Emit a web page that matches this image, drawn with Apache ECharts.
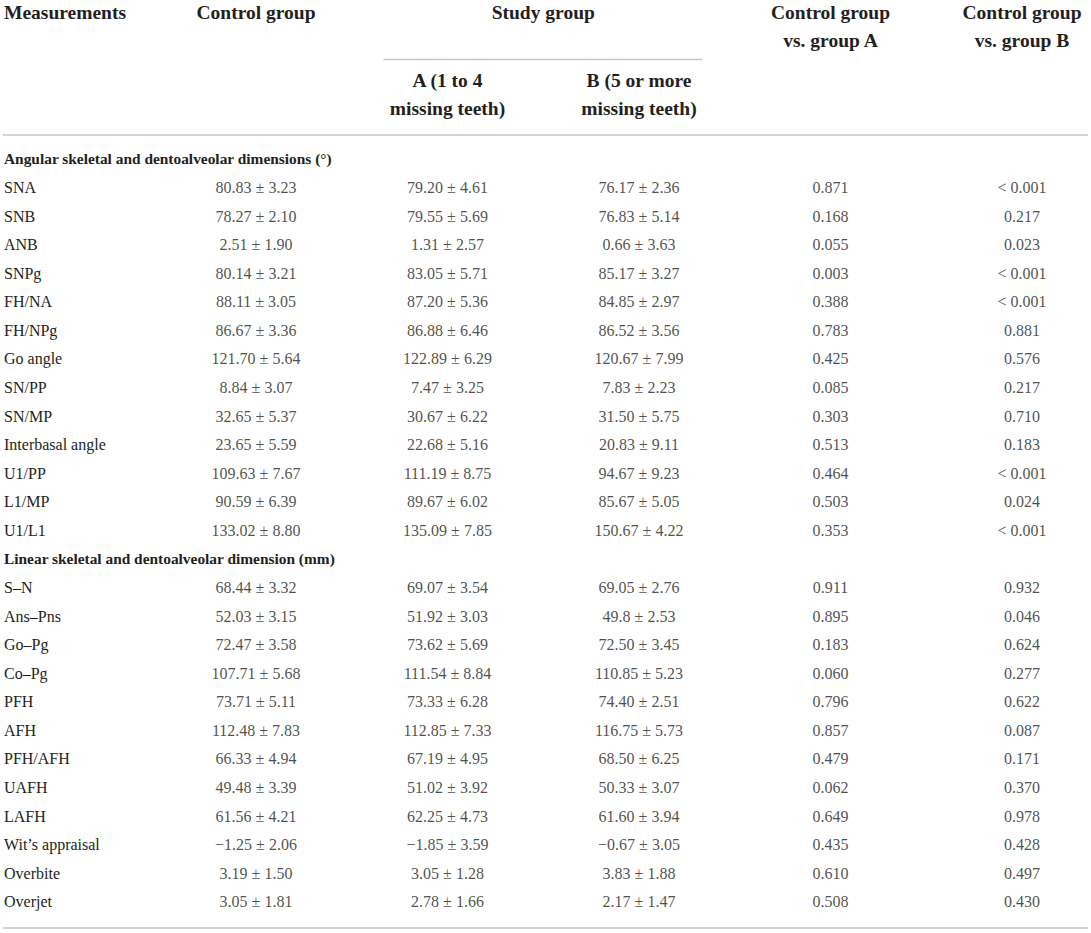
<!DOCTYPE html>
<html>
<head>
<meta charset="utf-8">
<script src="https://cdn.jsdelivr.net/npm/echarts@6/dist/echarts.min.js"></script>
<style>
html,body{margin:0;padding:0;background:#ffffff;}
#chart{width:1091px;height:933px;}
</style>
</head>
<body>
<div id="chart"></div>
<script>
// ---------- DATA ----------
const headerMeasurements = 'Measurements';
const headerControl = 'Control group';
const headerStudy = 'Study group';
const headerGroupA = ['A (1 to 4', 'missing teeth)'];
const headerGroupB = ['B (5 or more', 'missing teeth)'];
const headerPA = ['Control group', 'vs. group A'];
const headerPB = ['Control group', 'vs. group B'];

const angularTitle = 'Angular skeletal and dentoalveolar dimensions (°)';
const angularNames = ['SNA','SNB','ANB','SNPg','FH/NA','FH/NPg','Go angle','SN/PP','SN/MP','Interbasal angle','U1/PP','L1/MP','U1/L1'];
const angularControl = ['80.83 ± 3.23','78.27 ± 2.10','2.51 ± 1.90','80.14 ± 3.21','88.11 ± 3.05','86.67 ± 3.36','121.70 ± 5.64','8.84 ± 3.07','32.65 ± 5.37','23.65 ± 5.59','109.63 ± 7.67','90.59 ± 6.39','133.02 ± 8.80'];
const angularGroupA = ['79.20 ± 4.61','79.55 ± 5.69','1.31 ± 2.57','83.05 ± 5.71','87.20 ± 5.36','86.88 ± 6.46','122.89 ± 6.29','7.47 ± 3.25','30.67 ± 6.22','22.68 ± 5.16','111.19 ± 8.75','89.67 ± 6.02','135.09 ± 7.85'];
const angularGroupB = ['76.17 ± 2.36','76.83 ± 5.14','0.66 ± 3.63','85.17 ± 3.27','84.85 ± 2.97','86.52 ± 3.56','120.67 ± 7.99','7.83 ± 2.23','31.50 ± 5.75','20.83 ± 9.11','94.67 ± 9.23','85.67 ± 5.05','150.67 ± 4.22'];
const angularPA = ['0.871','0.168','0.055','0.003','0.388','0.783','0.425','0.085','0.303','0.513','0.464','0.503','0.353'];
const angularPB = ['< 0.001','0.217','0.023','< 0.001','< 0.001','0.881','0.576','0.217','0.710','0.183','< 0.001','0.024','< 0.001'];

const linearTitle = 'Linear skeletal and dentoalveolar dimension (mm)';
const linearNames = ['S–N','Ans–Pns','Go–Pg','Co–Pg','PFH','AFH','PFH/AFH','UAFH','LAFH','Wit’s appraisal','Overbite','Overjet'];
const linearControl = ['68.44 ± 3.32','52.03 ± 3.15','72.47 ± 3.58','107.71 ± 5.68','73.71 ± 5.11','112.48 ± 7.83','66.33 ± 4.94','49.48 ± 3.39','61.56 ± 4.21','−1.25 ± 2.06','3.19 ± 1.50','3.05 ± 1.81'];
const linearGroupA = ['69.07 ± 3.54','51.92 ± 3.03','73.62 ± 5.69','111.54 ± 8.84','73.33 ± 6.28','112.85 ± 7.33','67.19 ± 4.95','51.02 ± 3.92','62.25 ± 4.73','−1.85 ± 3.59','3.05 ± 1.28','2.78 ± 1.66'];
const linearGroupB = ['69.05 ± 2.76','49.8 ± 2.53','72.50 ± 3.45','110.85 ± 5.23','74.40 ± 2.51','116.75 ± 5.73','68.50 ± 6.25','50.33 ± 3.07','61.60 ± 3.94','−0.67 ± 3.05','3.83 ± 1.88','2.17 ± 1.47'];
const linearPA = ['0.911','0.895','0.183','0.060','0.796','0.857','0.479','0.062','0.649','0.435','0.610','0.508'];
const linearPB = ['0.932','0.046','0.624','0.277','0.622','0.087','0.171','0.370','0.978','0.428','0.497','0.430'];

// ---------- BUILD TABLE ----------
const sectionTitles = [angularTitle, linearTitle];
const rows = [angularTitle, ...angularNames, linearTitle, ...linearNames];
const columns = [
  [null, ...angularControl, null, ...linearControl],
  [null, ...angularGroupA, null, ...linearGroupA],
  [null, ...angularGroupB, null, ...linearGroupB],
  [null, ...angularPA, null, ...linearPA],
  [null, ...angularPB, null, ...linearPB]
];

// ---------- STYLE / LAYOUT ----------
const FONT = '"Liberation Serif","Times New Roman",Times,serif';
const INK = '#231f20';
const RULE = '#c6c6c6';
const BODY_SIZE = 16;
const SECTION_SIZE = 15.4;
const HEAD_SIZE = 19.5;
const ROW_PITCH = 28.57;
const FIRST_ROW_Y = 158.9;

const chart = echarts.init(document.getElementById('chart'), null, {renderer: 'svg'});

const series = columns.map((col, ci) => ({
  type: 'scatter',
  symbol: 'circle',
  symbolSize: 1,
  itemStyle: {color: 'transparent'},
  silent: true,
  data: col.map((cell, ri) => cell == null ? null : [ci + 1, ri, cell]).filter(d => d),
  label: {
    show: true,
    position: 'inside',
    formatter: p => p.value[2],
    fontFamily: FONT,
    fontSize: BODY_SIZE,
    color: INK
  }
}));

chart.setOption({
  animation: false,
  backgroundColor: '#ffffff',
  grid: {
    left: 4,
    right: 0,
    top: FIRST_ROW_Y - ROW_PITCH / 2,
    height: ROW_PITCH * rows.length
  },
  xAxis: {
    type: 'value',
    min: -0.3159,
    max: 5.3603,
    show: false
  },
  yAxis: {
    type: 'category',
    data: rows,
    inverse: true,
    axisLine: {show: false},
    axisTick: {show: false},
    splitLine: {show: false},
    axisLabel: {
      inside: true,
      margin: 0,
      align: 'left',
      interval: 0,
      fontFamily: FONT,
      fontSize: BODY_SIZE,
      color: INK,
      formatter: v => sectionTitles.includes(v) ? '{b|' + v + '}' : v,
      rich: {
        b: {fontWeight: 'bold', fontFamily: FONT, fontSize: SECTION_SIZE, color: INK}
      }
    }
  },
  series: series
});

// header & rules positioned from the library's own column scale
const colX = k => chart.convertToPixel({xAxisIndex: 0}, k);
const gridBottom = FIRST_ROW_Y - ROW_PITCH / 2 + ROW_PITCH * rows.length;

function headText(text, x, y, align) {
  return {
    type: 'text', x: x, y: y, silent: true,
    style: {
      text: text, fill: INK, fontFamily: FONT, fontSize: HEAD_SIZE, fontWeight: 'bold',
      align: align || 'center', verticalAlign: 'middle'
    }
  };
}
function rule(x1, x2, y) {
  return {
    type: 'line', silent: true,
    shape: {x1: x1, y1: y, x2: x2, y2: y},
    style: {stroke: RULE, lineWidth: 1.3}
  };
}

const L1 = 12.7, L2 = 40.7, S1 = 80.5, S2 = 108;
const graphics = [
  headText(headerMeasurements, 4, L1, 'left'),
  headText(headerControl, colX(1), L1),
  headText(headerStudy, (colX(2) + colX(3)) / 2, L1),
  headText(headerPA[0], colX(4), L1),
  headText(headerPA[1], colX(4), L2),
  headText(headerPB[0], colX(5), L1),
  headText(headerPB[1], colX(5), L2),
  headText(headerGroupA[0], colX(2), S1),
  headText(headerGroupA[1], colX(2), S2),
  headText(headerGroupB[0], colX(3), S1),
  headText(headerGroupB[1], colX(3), S2),
  rule(colX(2) - 64, colX(3) + 63, 59.5),
  rule(3, 1088, 135),
  rule(3, 1088, gridBottom + 12)
];
chart.setOption({graphic: graphics});
</script>
</body>
</html>
